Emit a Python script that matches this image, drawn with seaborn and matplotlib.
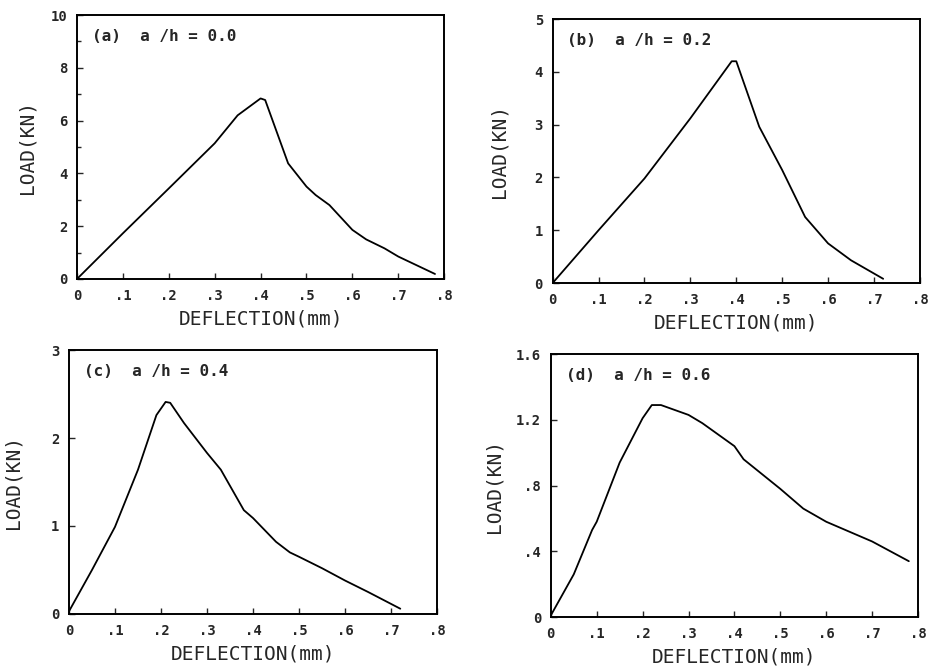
import pandas as pd
import seaborn as sns
import matplotlib.pyplot as plt

# curvas carga-deflexion
defl_a = [0, 0.1, 0.2, 0.3, 0.35, 0.40, 0.41, 0.46, 0.50, 0.52, 0.55, 0.60, 0.63, 0.67, 0.70, 0.78]
load_a = [0, 1.73, 3.43, 5.14, 6.2, 6.84, 6.78, 4.38, 3.5, 3.18, 2.8, 1.86, 1.5, 1.16, 0.85, 0.19]

defl_b = [0, 0.1, 0.2, 0.3, 0.39, 0.40, 0.45, 0.50, 0.55, 0.60, 0.65, 0.72]
load_b = [0, 1.0, 1.98, 3.12, 4.2, 4.2, 2.96, 2.14, 1.25, 0.75, 0.43, 0.08]

defl_c = [0, 0.05, 0.10, 0.15, 0.19, 0.21, 0.22, 0.25, 0.30, 0.33, 0.38, 0.40, 0.45, 0.48, 0.50, 0.55, 0.60, 0.65, 0.72]
load_c = [0.03, 0.5, 0.99, 1.64, 2.26, 2.41, 2.4, 2.17, 1.83, 1.64, 1.18, 1.09, 0.82, 0.70, 0.65, 0.52, 0.38, 0.25, 0.06]

defl_d = [0, 0.05, 0.09, 0.10, 0.15, 0.20, 0.22, 0.24, 0.30, 0.33, 0.40, 0.42, 0.50, 0.55, 0.60, 0.70, 0.78]
load_d = [0.01, 0.26, 0.53, 0.58, 0.94, 1.21, 1.29, 1.29, 1.23, 1.18, 1.04, 0.96, 0.78, 0.66, 0.58, 0.46, 0.34]

titulos = ["(a)  a /h = 0.0", "(b)  a /h = 0.2", "(c)  a /h = 0.4", "(d)  a /h = 0.6"]
x_ticks = [0, 0.1, 0.2, 0.3, 0.4, 0.5, 0.6, 0.7, 0.8]
x_labels = ["0", ".1", ".2", ".3", ".4", ".5", ".6", ".7", ".8"]
y_ticks = [[0, 2, 4, 6, 8, 10], [0, 1, 2, 3, 4, 5], [0, 1, 2, 3], [0, 0.4, 0.8, 1.2, 1.6]]
y_labels = [["0", "2", "4", "6", "8", "10"], ["0", "1", "2", "3", "4", "5"],
            ["0", "1", "2", "3"], ["0", ".4", ".8", "1.2", "1.6"]]

datos = [(defl_a, load_a), (defl_b, load_b), (defl_c, load_c), (defl_d, load_d)]

sns.set_style("ticks")
plt.rcParams['font.family'] = ['DejaVu Sans Mono', 'DejaVu Sans']

fig = plt.figure(figsize=(9.32, 6.70), dpi=100)
posiciones = [
    [0.0826, 0.5836, 0.394, 0.394],
    [0.593, 0.5776, 0.394, 0.394],
    [0.074, 0.0836, 0.395, 0.394],
    [0.591, 0.079, 0.394, 0.3925],
]
ylab_x = [-0.11, -0.12, -0.125, -0.128]

for i, (x, y) in enumerate(datos):
    ax = fig.add_axes(posiciones[i])
    df = pd.DataFrame({"defl": x, "load": y})
    sns.lineplot(data=df, x="defl", y="load", ax=ax, color="black", linewidth=1.3, sort=False)
    ax.set_xlim(0, 0.8)
    ax.set_ylim(y_ticks[i][0], y_ticks[i][-1])
    ax.set_xticks(x_ticks)
    ax.set_xticklabels(x_labels, fontsize=10, fontweight="bold")
    ax.set_yticks(y_ticks[i])
    ax.set_yticklabels(y_labels[i], fontsize=10, fontweight="bold")
    if i == 0:
        ax.set_yticks([1, 3, 5, 7, 9], minor=True)
    ax.tick_params(direction="in", length=4, width=1, top=False, right=False, pad=7)
    ax.tick_params(which="minor", direction="in", length=3, width=1)
    for s in ax.spines.values():
        s.set_linewidth(1.4)
        s.set_color("black")
    ax.set_xlabel("DEFLECTION(mm)", fontsize=14, labelpad=5)
    ax.set_ylabel("LOAD(KN)", fontsize=14)
    ax.yaxis.set_label_coords(ylab_x[i], 0.5)
    ax.text(0.04, 0.92, titulos[i], transform=ax.transAxes, fontsize=11.5,
            fontweight="bold", va="center", ha="left")

plt.savefig("out.png", dpi=100)
